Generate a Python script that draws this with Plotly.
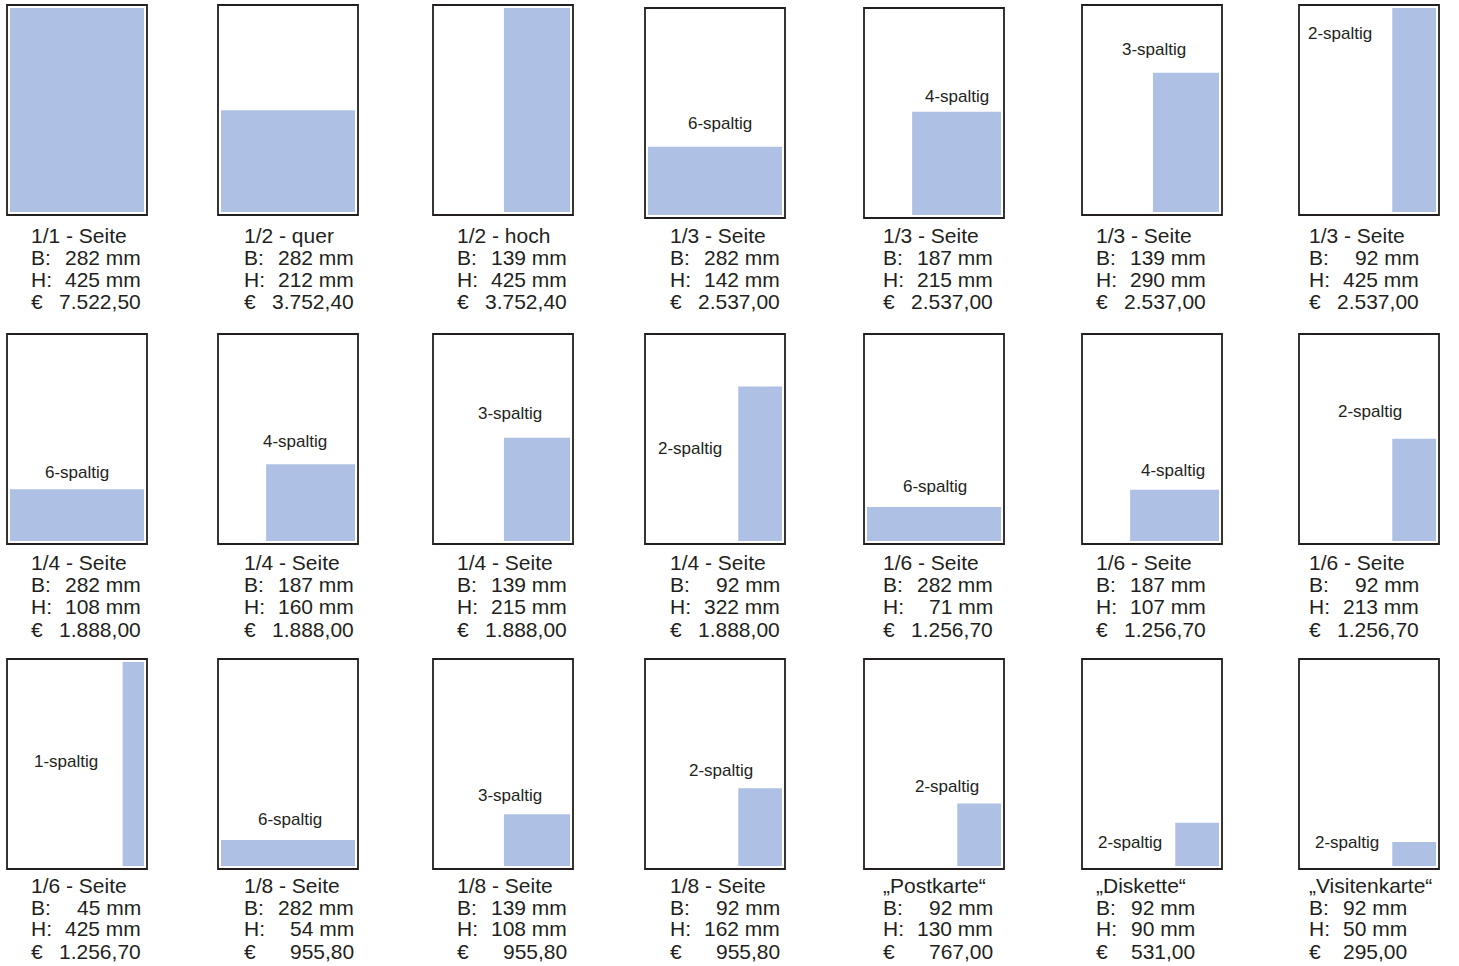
import plotly.graph_objects as go

# ---- data ----
titles = ["1/1 - Seite", "1/2 - quer", "1/2 - hoch", "1/3 - Seite", "1/3 - Seite", "1/3 - Seite", "1/3 - Seite",
          "1/4 - Seite", "1/4 - Seite", "1/4 - Seite", "1/4 - Seite", "1/6 - Seite", "1/6 - Seite", "1/6 - Seite",
          "1/6 - Seite", "1/8 - Seite", "1/8 - Seite", "1/8 - Seite", "\u201ePostkarte\u201c", "\u201eDiskette\u201c", "\u201eVisitenkarte\u201c"]
widths_mm = [282, 282, 139, 282, 187, 139, 92,
             282, 187, 139, 92, 282, 187, 92,
             45, 282, 139, 92, 92, 92, 92]
heights_mm = [425, 212, 425, 142, 215, 290, 425,
              108, 160, 215, 322, 71, 107, 213,
              425, 54, 108, 162, 130, 90, 50]
prices_eur = [7522.50, 3752.40, 3752.40, 2537.00, 2537.00, 2537.00, 2537.00,
              1888.00, 1888.00, 1888.00, 1888.00, 1256.70, 1256.70, 1256.70,
              1256.70, 955.80, 955.80, 955.80, 767.00, 531.00, 295.00]
column_labels = ["", "", "", "6-spaltig", "4-spaltig", "3-spaltig", "2-spaltig",
                 "6-spaltig", "4-spaltig", "3-spaltig", "2-spaltig", "6-spaltig", "4-spaltig", "2-spaltig",
                 "1-spaltig", "6-spaltig", "3-spaltig", "2-spaltig", "2-spaltig", "2-spaltig", "2-spaltig"]
PAGE_W, PAGE_H = 282, 425

# ---- layout (pixels) ----
W, H = 1459, 966
col_left = [7, 218, 433, 645, 864, 1082, 1299]
row_top = [5, 334, 659]
top_adjust = [0, 0, 0, 3, 3, 0, 0]  # first row small offsets
BOX_W, BOX_H = 140, 210
text_left = [29 + 213 * c for c in range(7)]
line_y = [[235, 257, 279, 302], [562, 584, 606, 629], [885, 907, 928, 951]]
value_end = [114] * 21
value_end[19] = 103
value_end[20] = 102
# label placement: ("above", x offset in box px, gap px above ad area) or ("box", dx, dy)
label_pos = [None, None, None,
             ("above", 75, 23), ("above", 93, 15), ("above", 72, 23), ("box", 41, 28),
             ("above", 70, 17), ("above", 77, 23), ("above", 77, 24), ("box", 45, 114),
             ("above", 71, 20), ("above", 91, 19), ("above", 71, 27),
             ("box", 59, 102), ("above", 72, 21), ("above", 77, 19), ("above", 76, 18),
             ("above", 83, 17), ("box", 48, 183), ("box", 48, 183)]

TXT = "#231f20"
BLUE = "#aec0e4"
FONT = "Liberation Sans, Arial, sans-serif"

def fmt_eur(v):
    s = f"{v:,.2f}"
    return s.replace(",", "X").replace(".", ",").replace("X", ".")

px_x = lambda p: p / W
px_y = lambda p: 1 - p / H

mx = 3 / ((BOX_W - 6) / PAGE_W)
my = 3 / ((BOX_H - 6) / PAGE_H)

fig = go.Figure()
shapes = []
annotations = []
layout_axes = {}

for i in range(21):
    r, c = divmod(i, 7)
    left = col_left[c]
    top = row_top[r] + (top_adjust[c] if r == 0 else 0)
    n = i + 1
    xa = "x" if n == 1 else f"x{n}"
    ya = "y" if n == 1 else f"y{n}"
    xkey = "xaxis" if n == 1 else f"xaxis{n}"
    ykey = "yaxis" if n == 1 else f"yaxis{n}"
    layout_axes[xkey] = dict(domain=[px_x(left), px_x(left + BOX_W)], range=[-mx, PAGE_W + mx],
                             visible=False, anchor=ya, fixedrange=True)
    layout_axes[ykey] = dict(domain=[px_y(top + BOX_H), px_y(top)], range=[-my, PAGE_H + my],
                             visible=False, anchor=xa, fixedrange=True)
    fig.add_trace(go.Scatter(x=[None], y=[None], xaxis=xa, yaxis=ya, showlegend=False, hoverinfo="skip"))

    # ad area (anchored bottom-right)
    shapes.append(dict(type="rect", xref=xa, yref=ya,
                       x0=PAGE_W - widths_mm[i], x1=PAGE_W, y0=0, y1=heights_mm[i],
                       fillcolor=BLUE, line=dict(width=0), layer="below"))
    # page frame
    shapes.append(dict(type="rect", xref=f"{xa} domain", yref=f"{ya} domain",
                       x0=0, x1=1, y0=0, y1=1, line=dict(color=TXT, width=1.8),
                       fillcolor="rgba(0,0,0,0)"))

    if column_labels[i]:
        kind, dx, d2 = label_pos[i]
        if kind == "above":
            annotations.append(dict(text=column_labels[i], xref="paper", yref=ya,
                                    x=px_x(left + dx), y=heights_mm[i], yshift=d2, showarrow=False,
                                    xanchor="center", yanchor="middle",
                                    font=dict(family=FONT, size=17, color=TXT)))
        else:
            annotations.append(dict(text=column_labels[i], xref="paper", yref="paper",
                                    x=px_x(left + dx), y=px_y(top + d2), showarrow=False,
                                    xanchor="center", yanchor="middle",
                                    font=dict(family=FONT, size=17, color=TXT)))

    tl = text_left[c]
    ly = line_y[r]
    annotations.append(dict(text=titles[i], xref="paper", yref="paper", x=px_x(tl), y=px_y(ly[0]),
                            showarrow=False, xanchor="left", yanchor="middle",
                            font=dict(family=FONT, size=21, color=TXT)))
    rows = [("B:", f"{widths_mm[i]} mm"), ("H:", f"{heights_mm[i]} mm"), ("\u20ac", fmt_eur(prices_eur[i]))]
    for k, (pre, val) in enumerate(rows):
        annotations.append(dict(text=pre, xref="paper", yref="paper", x=px_x(tl), y=px_y(ly[k + 1]),
                                showarrow=False, xanchor="left", yanchor="middle",
                                font=dict(family=FONT, size=21, color=TXT)))
        annotations.append(dict(text=val, xref="paper", yref="paper", x=px_x(tl + value_end[i]),
                                y=px_y(ly[k + 1]), showarrow=False, xanchor="right", yanchor="middle",
                                font=dict(family=FONT, size=21, color=TXT)))

fig.update_layout(width=W, height=H, margin=dict(l=0, r=0, t=0, b=0),
                  paper_bgcolor="white", plot_bgcolor="white",
                  shapes=shapes, annotations=annotations, showlegend=False, **layout_axes)

fig.write_html("out.html", config={"displayModeBar": False},
               post_script="document.body.style.margin='0px';document.body.style.overflow='hidden';")
